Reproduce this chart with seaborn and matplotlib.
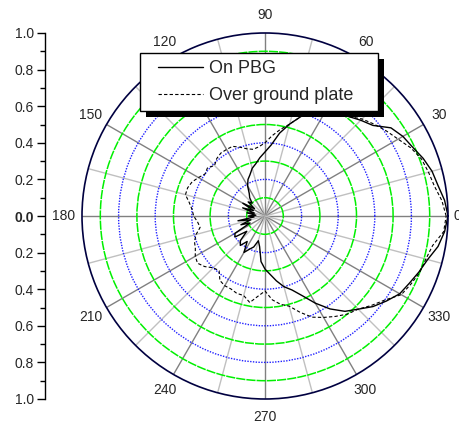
import numpy as np
import matplotlib
matplotlib.use("Agg")
import matplotlib.pyplot as plt
import matplotlib.patheffects as pe
from matplotlib.legend_handler import HandlerLine2D
import seaborn as sns

# data (angle in degrees, normalised radius)
angles = [0, 5, 10, 15, 20, 25, 30, 35, 40, 45, 50, 55, 60, 65, 70, 75, 80, 85,
          90, 95, 100, 105, 110, 115, 120, 125, 130, 135, 140, 145, 150, 155, 160, 165,
          170, 175, 180, 185, 190, 195, 200, 205, 210, 215, 220, 225, 230, 235, 240, 245,
          250, 255, 260, 265, 270, 275, 280, 285, 290, 295, 300, 305, 310, 315, 320, 325,
          330, 335, 340, 345, 350, 355, 360]
on_pbg = [1.0, 0.985, 0.96, 0.945, 0.92, 0.89, 0.87, 0.84, 0.77, 0.74, 0.71, 0.69,
          0.66, 0.63, 0.58, 0.52, 0.46, 0.39, 0.35, 0.32, 0.29, 0.27, 0.24, 0.22,
          0.19, 0.15, 0.13, 0.10, 0.12, 0.07, 0.14, 0.07, 0.13, 0.06, 0.10, 0.05,
          0.09, 0.06, 0.15, 0.08, 0.14, 0.09, 0.19, 0.20, 0.13, 0.19, 0.21, 0.17,
          0.23, 0.20, 0.18, 0.14, 0.17, 0.25, 0.29, 0.32, 0.36, 0.40, 0.43, 0.48,
          0.55, 0.62, 0.68, 0.72, 0.77, 0.81, 0.85, 0.87, 0.895, 0.92, 0.96, 0.985, 1.0]
ground = [0.99, 0.97, 0.94, 0.925, 0.91, 0.88, 0.84, 0.81, 0.78, 0.75, 0.71, 0.69,
          0.65, 0.62, 0.58, 0.52, 0.48, 0.44, 0.40, 0.38, 0.37, 0.38, 0.40, 0.42,
          0.42, 0.42, 0.41, 0.39, 0.41, 0.40, 0.42, 0.44, 0.45, 0.45, 0.42, 0.40,
          0.39, 0.37, 0.36, 0.39, 0.41, 0.42, 0.44, 0.45, 0.43, 0.40, 0.39, 0.43,
          0.44, 0.44, 0.45, 0.45, 0.48, 0.44, 0.41, 0.46, 0.49, 0.51, 0.56, 0.61,
          0.64, 0.67, 0.70, 0.72, 0.76, 0.80, 0.86, 0.88, 0.90, 0.91, 0.93, 0.98, 0.99]
theta_labels = ['0', '30', '60', '90', '120', '150', '180', '210', '240', '270', '300', '330']
series_names = ['On PBG', 'Over ground plate']

sns.set_style('white')
plt.rcParams['font.family'] = ['Liberation Sans', 'DejaVu Sans']

W, H = 460, 425
fig = plt.figure(figsize=(W / 100, H / 100), dpi=100)
ax = fig.add_axes([82 / W, 26 / H, 366 / W, 366 / H], projection='polar')

th = np.deg2rad(angles)
sns.lineplot(x=th, y=on_pbg, sort=False, ax=ax, color='black', lw=1.0, legend=False)
sns.lineplot(x=th, y=ground, sort=False, ax=ax, color='black', lw=0.8, legend=False)
ax.lines[1].set_linestyle((0, (3, 2)))

ax.set_ylim(0, 1)
ax.set_yticks(np.arange(0.1, 0.95, 0.1))
ax.set_yticklabels([])
deg = np.arange(0, 360, 15)
ax.set_xticks(np.deg2rad(deg))
# the 0 label is put in by hand further down so it stays inside the picture
ax.set_xticklabels([theta_labels[d // 30] if d % 30 == 0 and d > 0 else '' for d in deg], fontsize=10)
ax.grid(True)
for d, t in zip(deg, ax.xaxis.get_major_ticks()):
    t.gridline.set_color('#808080' if d % 30 == 0 else '#c0c0c0')
    t.gridline.set_linewidth(1.0)
    t.gridline.set_linestyle('-')
for i, t in enumerate(ax.yaxis.get_major_ticks()):
    if i % 2 == 0:
        t.gridline.set_color('#00f000')
        t.gridline.set_linestyle((0, (6, 0.7)))
        t.gridline.set_linewidth(1.1)
    else:
        t.gridline.set_color('#2020ff')
        t.gridline.set_linestyle((0, (1, 1)))
        t.gridline.set_linewidth(1.0)
ax.tick_params(axis='x', direction='in', length=5, width=1, color='#000030', pad=6)
ax.spines['polar'].set_color('#000040')
ax.spines['polar'].set_linewidth(1.2)
ax.annotate(theta_labels[0], xy=(0, 1), xycoords='data', xytext=(4, 0),
            textcoords='offset points', ha='left', va='center', fontsize=10)

# radial scale drawn as separate axis on the left
lax = fig.add_axes([45 / W, 26 / H, 0.002, 366 / H])
lax.set_ylim(-1, 1)
for s in ['right', 'top', 'bottom']:
    lax.spines[s].set_visible(False)
lax.spines['left'].set_linewidth(1.0)
lax.spines['left'].set_color('black')
lax.patch.set_visible(False)
lax.set_xticks([])
yt = np.linspace(-1, 1, 11)
lax.set_yticks(yt)
lax.set_yticklabels([f'{abs(v):.1f}' for v in yt], fontsize=10)
lax.set_yticks(np.linspace(-1, 1, 21), minor=True)
lax.tick_params(axis='y', which='both', left=True, direction='out', color='black', width=1)
lax.tick_params(axis='y', which='major', length=6, pad=2)
lax.tick_params(axis='y', which='minor', length=3.5)
for lab in lax.get_yticklabels():
    if lab.get_text() == '0.0':
        lab.set_fontweight('bold')


class ShiftedLine(HandlerLine2D):
    def create_artists(self, legend, orig_handle, xdescent, ydescent, width, height, fontsize, trans):
        shift = 8
        return super().create_artists(legend, orig_handle, xdescent - shift, ydescent,
                                      width - shift, height, fontsize, trans)


leg = fig.legend(ax.lines[:2], series_names, loc='upper left',
                 bbox_to_anchor=(140 / W, 1 - 107 / H, 238 / W, 54 / H),
                 bbox_transform=fig.transFigure, mode='expand', borderaxespad=0,
                 fontsize=13, handlelength=3.1, handletextpad=0.3, borderpad=0.4,
                 labelspacing=0.55, fancybox=False, framealpha=1, edgecolor='black',
                 handler_map={matplotlib.lines.Line2D: ShiftedLine()})
leg.get_frame().set_linewidth(1.0)
leg.get_frame().set_path_effects([
    pe.SimplePatchShadow(offset=(4.2, -4.2), shadow_rgbFace='black', alpha=1.0),
    pe.Normal()])

fig.savefig('out.png', dpi=100)
